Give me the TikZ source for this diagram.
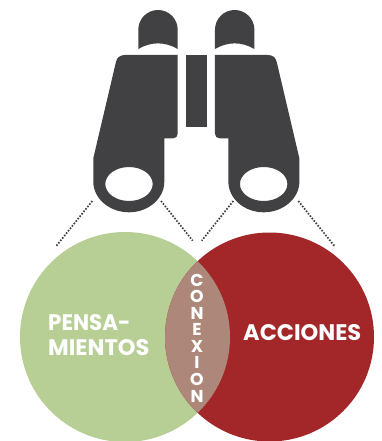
\documentclass[tikz,border=0pt]{standalone}
\usepackage{fontspec}
\setmainfont{Poppins}
\definecolor{leaf}{HTML}{B7CE95}
\definecolor{wine}{HTML}{A32729}
\definecolor{mix}{HTML}{AD887A}
\definecolor{ink}{HTML}{414042}
\tikzset{
  binofill/.style={fill=ink,draw=none},
  sightline/.style={draw=ink,line width=1.7pt,dash pattern=on 1.6pt off 1.5pt},
  bigword/.style={text=white,font=\fontsize{22.5}{25.7}\selectfont\bfseries,inner sep=0pt,align=left},
  stackletter/.style={text=white,font=\fontsize{17.2}{17.2}\selectfont\bfseries,inner sep=0pt,anchor=base}
}
\newcommand{\barrelshape}{%
    \path[binofill] (138.3,49) -- (138.3,29.7) .. controls (138.3,18.8) and (147.1,10) .. (158,10)
      .. controls (168.9,10) and (177.7,18.8) .. (177.7,29.7) -- (177.7,49)
      .. controls (165,41.5) and (151,41.5) .. (138.3,49) -- cycle;
    \path[binofill,even odd rule] (125,55) -- (177.7,55) -- (177.7,133.5)
      .. controls (177.7,136.5) and (176,138.3) .. (173,138.3) -- (164.3,138.3) -- (164.3,181.7)
      .. controls (164.3,198.6) and (148.4,212.3) .. (129,212.3)
      .. controls (109.6,212.3) and (93.3,198.6) .. (93.3,181.7)
      -- (93.3,158.3) -- (116,61.7) .. controls (117,57.5) and (120,55) .. (125,55) -- cycle
      (129,184) ellipse [x radius=23.7,y radius=17];
}
\begin{document}
\begin{tikzpicture}[x=1pt,y=-1pt]
\useasboundingbox (0,0) rectangle (381,441);
% dotted sight lines
\coordinate (l1a) at (92.3,201); \coordinate (l1b) at (55.7,246.7);
\coordinate (l2a) at (161,201); \coordinate (l2b) at (192.7,240.7);
\coordinate (l3a) at (233.3,201); \coordinate (l3b) at (201.7,240.7);
\coordinate (l4a) at (298.3,201); \coordinate (l4b) at (335,246.7);
\draw[sightline] (l1a) -- (l1b);
\draw[sightline] (l2a) -- (l2b);
\draw[sightline] (l3a) -- (l3b);
\draw[sightline] (l4a) -- (l4b);
% binoculars
\barrelshape
\begin{scope}[xshift=392.67pt,xscale=-1]
\barrelshape
\end{scope}
\path[binofill] (186,55) rectangle (207,127);
% venn
\fill[leaf] (125,337) circle (105);
\fill[wine] (269.5,337) circle (104.5);
\begin{scope}
\clip (125,337) circle (105);
\fill[mix] (269.5,337) circle (104.5);
\end{scope}
% labels
\node[bigword,anchor=base west,xscale=.95] (pensa) at (48,330) {PENSA-};
\node[bigword,anchor=base west] (mient) at (48,355.7) {MIENTOS};
\node[bigword,anchor=base west] (acc) at (243,340) {ACCIONES};
\node[stackletter] (c1) at (197,286) {C};
\node[stackletter] (c2) at (197,302.6) {O};
\node[stackletter] (c3) at (197,319.1) {N};
\node[stackletter] (c4) at (197,335.7) {E};
\node[stackletter] (c5) at (197,352.3) {X};
\node[stackletter] (c6) at (197,368.9) {I};
\node[stackletter] (c7) at (197,385.4) {O};
\node[stackletter] (c8) at (197,402) {N};
\end{tikzpicture}
\end{document}
